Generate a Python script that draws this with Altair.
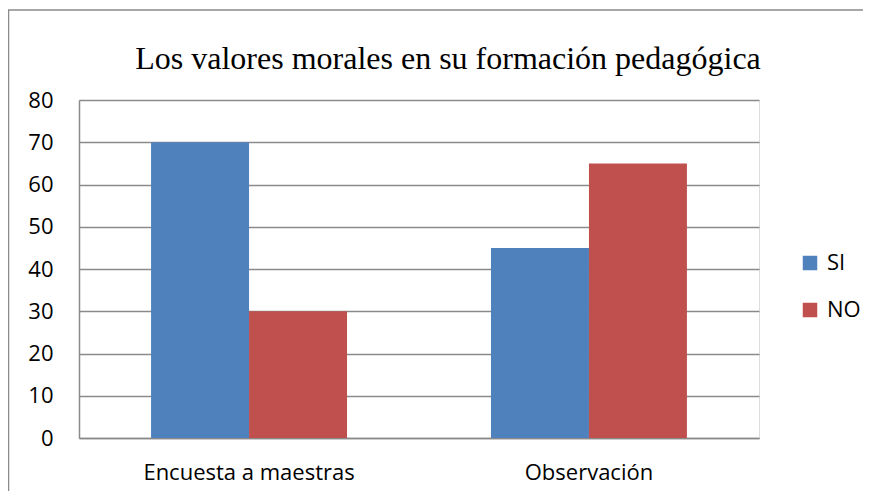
import altair as alt
import pandas as pd

categories = ["Encuesta a maestras", "Observación"]
series = ["SI", "NO"]
si_values = [70, 45]
no_values = [30, 65]
y_ticks = [0, 10, 20, 30, 40, 50, 60, 70, 80]
title_text = "Los valores morales en su formación pedagógica"

rows = []
for c, s, n in zip(categories, si_values, no_values):
    rows.append({"cat": c, "serie": "SI", "valor": s})
    rows.append({"cat": c, "serie": "NO", "valor": n})
df = pd.DataFrame(rows)

grey = "#8a8a8a"
label_font = "Open Sans"

bars = alt.Chart(df).mark_bar().encode(
    x=alt.X("cat:N", sort=categories, title=None,
            scale=alt.Scale(paddingInner=0.4235, paddingOuter=0.212),
            axis=alt.Axis(labelAngle=0, labelFont=label_font, labelFontSize=22,
                          labelColor="#000000", labelPadding=24, ticks=False,
                          labelLimit=400,
                          domainColor=grey, domainWidth=1.5)),
    xOffset=alt.XOffset("serie:N", sort=series),
    y=alt.Y("valor:Q", title=None,
            scale=alt.Scale(domain=[0, 80]),
            axis=alt.Axis(values=y_ticks, labelFont=label_font, labelFontSize=22,
                          labelColor="#000000", labelPadding=26, ticks=False,
                          grid=True, gridColor=grey, gridWidth=1.5,
                          domainColor=grey, domainWidth=1.5)),
    color=alt.Color("serie:N", sort=series,
                    scale=alt.Scale(domain=series, range=["#4F81BD", "#C0504D"]),
                    legend=alt.Legend(title=None, orient="none", legendX=720, legendY=152,
                                      symbolType="square", symbolSize=210,
                                      symbolStrokeWidth=0, labelFont=label_font,
                                      labelFontSize=22, labelColor="#000000",
                                      rowPadding=25, labelOffset=6)),
)

border = alt.Chart(pd.DataFrame({"a": [0]})).mark_rect(
    fill=None, stroke=grey, strokeWidth=1.5
).encode(x=alt.value(-70.5), x2=alt.value(900), y=alt.value(-90), y2=alt.value(520))

chart = alt.layer(border, bars).properties(
    width=680, height=338,
    title=alt.TitleParams(title_text, font="Liberation Serif", fontSize=32,
                          fontWeight="normal", color="#000000", anchor="middle",
                          frame="group", dx=29, offset=-92, baseline="alphabetic"),
    autosize=alt.AutoSizeParams(type="none"),
    padding={"left": 71, "top": 92, "right": 104, "bottom": 53},
).configure_view(stroke=None).configure(background="#ffffff")

chart.save("out.html", embed_options={"renderer": "svg", "actions": False})
